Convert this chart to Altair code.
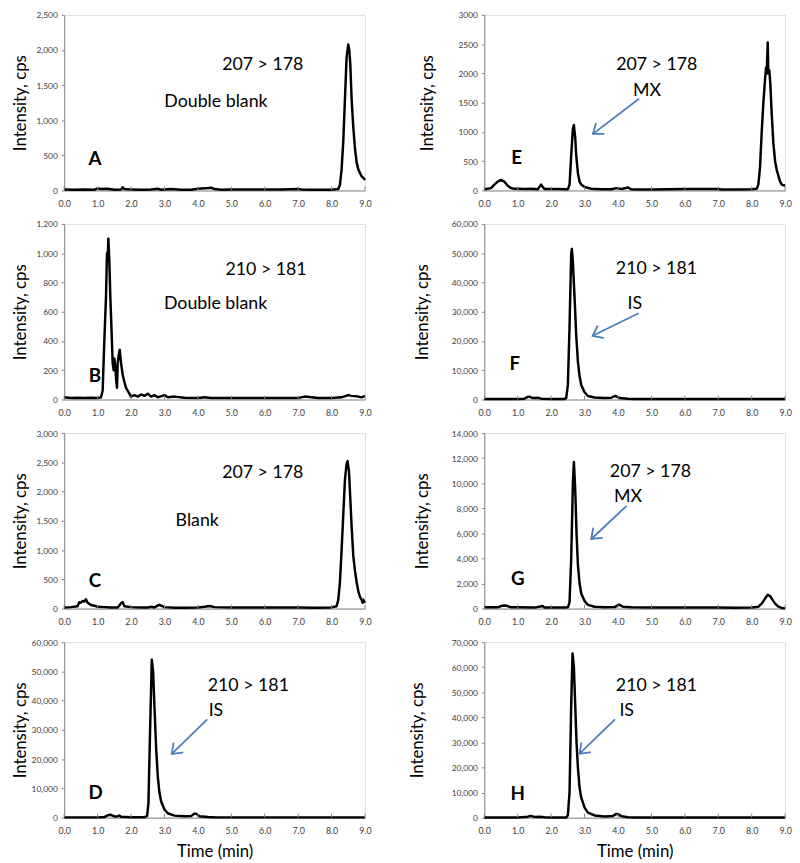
import math
import altair as alt
import pandas as pd

# ---------------- chromatogram traces (time, min ; intensity, cps) ----------------
A_time = [0.0, 0.3, 0.6, 0.9, 1.0, 1.1, 1.3, 1.5, 1.7, 1.75, 1.8, 2.0, 2.3, 2.6, 2.8, 2.9, 3.2, 3.5, 3.8,
          4.0, 4.2, 4.4, 4.5, 4.7, 5.0, 5.5, 6.0, 6.5, 7.0, 7.1, 7.5, 8.0, 8.2, 8.25, 8.3, 8.35, 8.4,
          8.45, 8.5, 8.53, 8.56, 8.6, 8.65, 8.7, 8.75, 8.8, 8.85, 8.9, 8.95, 9.0]
A_int = [15, 10, 15, 10, 30, 20, 25, 10, 15, 45, 20, 15, 10, 15, 25, 10, 20, 10, 10,
         25, 30, 40, 20, 10, 15, 15, 15, 15, 20, 15, 10, 10, 20, 80, 300, 700, 1300,
         1900, 2080, 2000, 1800, 1300, 900, 600, 400, 300, 250, 200, 180, 150]

E_time = [0.0, 0.1, 0.2, 0.3, 0.4, 0.5, 0.6, 0.7, 0.8, 0.9, 1.0, 1.2, 1.4, 1.6, 1.7, 1.75, 1.8, 2.0,
          2.2, 2.4, 2.5, 2.55, 2.6, 2.65, 2.68, 2.72, 2.75, 2.8, 2.85, 2.9, 3.0, 3.2, 3.5, 3.8, 3.95,
          4.1, 4.3, 4.4, 4.6, 5.0, 5.5, 6.0, 6.5, 7.0, 7.1, 7.5, 8.0, 8.15, 8.2, 8.25, 8.3, 8.35, 8.4,
          8.43, 8.45, 8.48, 8.5, 8.53, 8.56, 8.6, 8.65, 8.7, 8.75, 8.8, 8.85, 8.9, 9.0]
E_int = [20, 30, 40, 100, 150, 180, 150, 80, 40, 30, 30, 25, 30, 20, 100, 60, 25, 25,
         25, 20, 20, 100, 600, 1050, 1120, 900, 600, 300, 150, 100, 60, 30, 20, 20, 40,
         25, 50, 20, 15, 15, 20, 25, 25, 25, 15, 15, 20, 30, 100, 400, 1000, 1500, 1900,
         2100, 2000, 2530, 2000, 2050, 1800, 1300, 800, 500, 350, 250, 150, 100, 80]

B_time = [0.0, 0.2, 0.4, 0.6, 0.8, 1.0, 1.1, 1.15, 1.2, 1.25, 1.28, 1.3, 1.32, 1.35, 1.38, 1.42, 1.45,
          1.48, 1.5, 1.53, 1.56, 1.58, 1.6, 1.63, 1.66, 1.7, 1.75, 1.8, 1.85, 1.9, 1.95, 2.0, 2.1, 2.2,
          2.3, 2.4, 2.5, 2.6, 2.7, 2.8, 3.0, 3.1, 3.3, 3.6, 4.0, 4.2, 4.4, 5.0, 6.0, 7.0, 7.2, 7.4,
          7.6, 8.0, 8.3, 8.5, 8.6, 8.8, 8.9, 9.0]
B_int = [15, 10, 12, 10, 12, 10, 15, 60, 400, 700, 1000, 950, 1100, 950, 700, 450, 250,
         200, 280, 220, 120, 80, 250, 300, 340, 250, 170, 120, 80, 60, 40, 20, 30, 20,
         35, 25, 40, 20, 30, 15, 30, 15, 20, 12, 10, 15, 10, 10, 10, 10, 20, 15,
         10, 10, 15, 30, 25, 20, 15, 25]

F_time = [0.0, 0.5, 1.0, 1.2, 1.3, 1.35, 1.45, 1.6, 1.7, 2.0, 2.4, 2.45, 2.5, 2.55, 2.6, 2.62, 2.65,
          2.7, 2.75, 2.8, 2.85, 2.9, 3.0, 3.1, 3.3, 3.6, 3.8, 3.9, 3.95, 4.05, 4.3, 4.5, 5.0, 6.0,
          7.0, 8.0, 9.0]
F_int = [200, 200, 200, 300, 900, 1000, 500, 600, 300, 200, 200, 500, 5000, 25000, 50000, 51500, 47000,
         35000, 22000, 13000, 8000, 5000, 2500, 1200, 700, 500, 600, 1200, 1100, 500, 300, 200, 150, 150,
         150, 150, 150]

C_time = [0.0, 0.2, 0.4, 0.45, 0.5, 0.55, 0.6, 0.65, 0.7, 0.8, 0.9, 1.0, 1.2, 1.4, 1.6, 1.7, 1.75, 1.8,
          2.0, 2.3, 2.5, 2.6, 2.7, 2.8, 2.85, 2.9, 3.0, 3.3, 3.6, 4.0, 4.2, 4.35, 4.5, 5.0, 6.0, 7.0,
          7.5, 8.0, 8.15, 8.2, 8.25, 8.3, 8.35, 8.4, 8.45, 8.48, 8.52, 8.55, 8.6, 8.65, 8.7, 8.75, 8.8,
          8.85, 8.9, 8.93, 8.95, 9.0]
C_int = [20, 25, 40, 110, 100, 130, 120, 160, 100, 60, 50, 30, 25, 20, 20, 90, 110, 40,
         25, 20, 20, 30, 20, 50, 65, 50, 25, 15, 15, 20, 30, 45, 25, 20, 20, 20,
         15, 20, 40, 150, 450, 1000, 1600, 2200, 2480, 2520, 2350, 2000, 1400, 900, 650, 450, 300,
         200, 150, 100, 150, 100]

G_time = [0.0, 0.4, 0.5, 0.6, 0.7, 0.8, 1.0, 1.5, 1.75, 1.8, 2.0, 2.4, 2.5, 2.55, 2.6, 2.65, 2.68,
          2.72, 2.76, 2.8, 2.85, 2.9, 3.0, 3.1, 3.3, 3.6, 3.9, 4.0, 4.05, 4.15, 4.4, 5.0, 6.0, 7.0,
          7.5, 8.0, 8.2, 8.3, 8.4, 8.48, 8.55, 8.6, 8.7, 8.8, 8.9, 9.0]
G_int = [100, 100, 200, 250, 200, 100, 100, 80, 200, 80, 80, 80, 100, 500, 4000, 10000, 11700,
         9500, 6000, 3500, 2000, 1200, 600, 300, 150, 100, 120, 280, 300, 150, 100, 80, 80, 80,
         70, 80, 150, 400, 800, 1100, 1000, 800, 400, 150, 50, 30]

D_time = [0.0, 1.0, 1.2, 1.3, 1.38, 1.5, 1.6, 1.65, 1.7, 2.0, 2.4, 2.48, 2.52, 2.57, 2.62, 2.66, 2.7,
          2.75, 2.8, 2.85, 2.9, 3.0, 3.1, 3.3, 3.6, 3.8, 3.9, 3.95, 4.05, 4.3, 4.5, 5.0, 6.0, 7.0,
          8.0, 9.0]
D_int = [100, 100, 200, 800, 1000, 400, 500, 700, 300, 150, 150, 500, 5000, 30000, 54000, 50000, 38000,
         24000, 14000, 8500, 5500, 2800, 1500, 700, 500, 600, 1400, 1300, 500, 250, 150, 100, 100, 100,
         100, 100]

H_time = [0.0, 1.0, 1.3, 1.38, 1.5, 1.65, 1.8, 2.0, 2.45, 2.5, 2.55, 2.6, 2.64, 2.68, 2.72, 2.76, 2.8,
          2.85, 2.9, 3.0, 3.1, 3.3, 3.6, 3.85, 3.95, 4.0, 4.1, 4.3, 4.5, 5.0, 6.0, 7.0, 8.0, 9.0]
H_int = [100, 100, 400, 700, 300, 400, 150, 100, 100, 1000, 10000, 45000, 65500, 60000, 45000, 30000, 20000,
         12000, 8000, 4000, 2000, 900, 500, 700, 1500, 1400, 600, 200, 100, 100, 100, 100, 100, 100]

# axis tick values
X_TICKS = [0, 1, 2, 3, 4, 5, 6, 7, 8, 9]
Y_MAX = {"A": 2500, "E": 3000, "B": 1200, "F": 60000, "C": 3000, "G": 14000, "D": 60000, "H": 70000}
Y_STEP = {"A": 500, "E": 500, "B": 200, "F": 10000, "C": 500, "G": 2000, "D": 10000, "H": 10000}

# annotations (text, time, intensity)
NOTES = {
    "A": [("207 > 178", 5.94, 1790), ("Double blank", 4.54, 1265)],
    "E": [("207 > 178", 5.16, 2150), ("MX", 4.87, 1700)],
    "B": [("210 > 181", 6.04, 885), ("Double blank", 4.53, 650)],
    "F": [("210 > 181", 5.15, 44600), ("IS", 4.5, 32500)],
    "C": [("207 > 178", 5.94, 2320), ("Blank", 3.98, 1490)],
    "G": [("207 > 178", 4.97, 10870), ("MX", 4.3, 8900)],
    "D": [("210 > 181", 5.51, 44900), ("IS", 4.54, 36600)],
    "H": [("210 > 181", 5.15, 52500), ("IS", 4.26, 42700)],
}
LETTERS = {"A": (0.92, 445), "E": (0.97, 550), "B": (0.92, 160), "F": (0.91, 12000),
           "C": (0.92, 475), "G": (1.0, 2350), "D": (0.94, 8400), "H": (1.0, 9400)}
ARROWS = {"E": (4.63, 1567, 3.25, 967), "F": (4.62, 29500, 3.24, 21800),
          "G": (4.26, 8200, 3.2, 5550), "D": (4.28, 33600, 3.22, 21800),
          "H": (3.91, 39200, 2.85, 25500)}

TRACES = {"A": (A_time, A_int), "E": (E_time, E_int), "B": (B_time, B_int), "F": (F_time, F_int),
          "C": (C_time, C_int), "G": (G_time, G_int), "D": (D_time, D_int), "H": (H_time, H_int)}

# ---------------- styling ----------------
W, H = 305, 178
FONT = "Lato"
BLUE = "#4a7ebb"
AX = "#868686"
TITLE_X = {"A": -44, "B": -44, "C": -44, "D": -44, "E": -58, "F": -63, "G": -63, "H": -68}


def panel(key):
    t, v = TRACES[key]
    ymax, step = Y_MAX[key], Y_STEP[key]
    df = pd.DataFrame({"t": t, "v": v})
    xs = alt.Scale(domain=[0, 9], nice=False, zero=False)
    ys = alt.Scale(domain=[0, ymax], nice=False)
    bottom = key in ("D", "H")
    xaxis = alt.Axis(values=X_TICKS, format=".1f", ticks=False, grid=False, labelFlush=False,
                     labelFont=FONT, labelFontSize=9, labelColor="#404040", labelPadding=9,
                     domainColor=AX, domainWidth=1,
                     title="Time (min)" if bottom else "", titleFont=FONT, titleFontSize=17,
                     titleFontWeight="normal", titleColor="black", titlePadding=8)
    yaxis = alt.Axis(values=list(range(0, ymax + 1, step)), format="d" if key == "E" else ",d",
                     grid=False, labelFlush=False, labelOverlap=False,
                     tickSize=3, tickColor=AX, domainColor=AX, domainWidth=1,
                     labelFont=FONT, labelFontSize=8.5, labelColor="#404040", labelPadding=4,
                     title="Intensity, cps", titleFont=FONT, titleFontSize=17,
                     titleFontWeight="normal", titleColor="black",
                     titleX=TITLE_X[key], titleY=H / 2, titleBaseline="middle")
    X = lambda f: alt.X(f, type="quantitative", scale=xs, axis=xaxis)
    Y = lambda f: alt.Y(f, type="quantitative", scale=ys, axis=yaxis)

    line = alt.Chart(df).mark_line(color="black", strokeWidth=2.5, strokeJoin="round").encode(
        x=X("t"), y=Y("v"))
    ticks = alt.Chart(pd.DataFrame({"t": X_TICKS})).mark_rule(color=AX, strokeWidth=1).encode(
        x=X("t"), y=alt.value(H - 4), y2=alt.value(H))
    nd = pd.DataFrame(NOTES[key], columns=["label", "t", "v"])
    notes = alt.Chart(nd).mark_text(font=FONT, fontSize=18, color="black",
                                    align="center", baseline="middle").encode(
        x=X("t"), y=Y("v"), text="label:N")
    lt, lv = LETTERS[key]
    letter = alt.Chart(pd.DataFrame({"label": [key], "t": [lt], "v": [lv]})).mark_text(
        font=FONT, fontSize=19, fontWeight="bold", color="black", align="center", baseline="middle"
    ).encode(x=X("t"), y=Y("v"), text="label:N")
    layers = [line, ticks, notes, letter]
    if key in ARROWS:
        t1, v1, t2, v2 = ARROWS[key]
        ad = pd.DataFrame({"t": [t1], "v": [v1], "t2": [t2], "v2": [v2]})
        dx = (t2 - t1) / 9 * W
        dy = -(v2 - v1) / ymax * H
        ang = math.degrees(math.atan2(dy, dx)) % 360
        shaft = alt.Chart(ad).mark_rule(color=BLUE, strokeWidth=1.8).encode(
            x=X("t"), y=Y("v"), x2="t2:Q", y2="v2:Q")
        head = alt.Chart(ad).mark_point(shape="M-1,-0.75L0,0L-1,0.75", filled=False, stroke=BLUE,
                                        strokeWidth=1.8, size=300, angle=ang, opacity=1,
                                        strokeCap="round", strokeJoin="miter").encode(
            x=X("t2"), y=Y("v2"))
        layers += [shaft, head]
    return alt.layer(*layers).properties(width=W, height=H)


order = ["A", "E", "B", "F", "C", "G", "D", "H"]
chart = alt.concat(*[panel(k) for k in order], columns=2,
                   spacing={"row": 10, "column": 36}).properties(
    padding={"left": 3, "top": -4, "right": 0, "bottom": 0}
).configure_view(strokeWidth=0).configure(background="white")

chart.save("out.html", embed_options={"renderer": "svg", "actions": False})
